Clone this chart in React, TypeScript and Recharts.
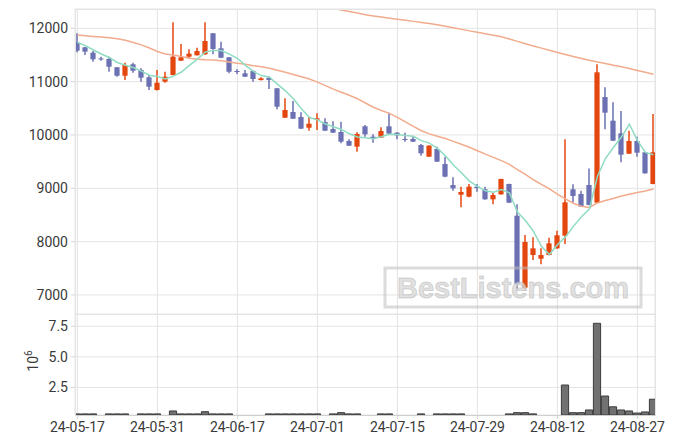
import { Bar, CartesianGrid, ComposedChart, Line, XAxis, YAxis } from "recharts";

const DATES = [
  "24-05-17", "24-05-20", "24-05-21", "24-05-22", "24-05-23", "24-05-24", "24-05-27", "24-05-28", "24-05-29", "24-05-30",
  "24-05-31", "24-06-03", "24-06-04", "24-06-05", "24-06-07", "24-06-10", "24-06-11", "24-06-12", "24-06-13", "24-06-14",
  "24-06-17", "24-06-18", "24-06-19", "24-06-20", "24-06-21", "24-06-24", "24-06-25", "24-06-26", "24-06-27", "24-06-28",
  "24-07-01", "24-07-02", "24-07-03", "24-07-04", "24-07-05", "24-07-08", "24-07-09", "24-07-10", "24-07-11", "24-07-12",
  "24-07-15", "24-07-16", "24-07-17", "24-07-18", "24-07-19", "24-07-22", "24-07-23", "24-07-24", "24-07-25", "24-07-26",
  "24-07-29", "24-07-30", "24-07-31", "24-08-01", "24-08-02", "24-08-05", "24-08-06", "24-08-07", "24-08-08", "24-08-09",
  "24-08-12", "24-08-13", "24-08-14", "24-08-16", "24-08-19", "24-08-20", "24-08-21", "24-08-22", "24-08-23", "24-08-26",
  "24-08-27", "24-08-28", "24-08-29",
];

const OPEN = [
  11737, 11644, 11543, 11435, 11425, 11269, 11111, 11325, 11218, 11081,
  10843, 10999, 11124, 11393, 11468, 11494, 11512, 11906, 11625, 11456,
  11200, 11156, 11199, 11030, 11070, 10875, 10324, 10431, 10337, 10136,
  10286, 10243, 10112, 10056, 9887, 9781, 10162, 9968, 9949, 10162,
  10043, 9925, 9925, 9812, 9593, 9737, 9456, 9061, 8880, 8843,
  9031, 8981, 8793, 8887, 9081, 8487, 7137, 7749, 7680, 7749,
  7874, 8112, 8981, 8893, 9062, 8731, 10712, 10268, 10031, 9649,
  9887, 9675, 9081,
];
const HIGH = [
  11906, 11650, 11574, 11468, 11468, 11275, 11355, 11355, 11250, 11124,
  11218, 11186, 12112, 11706, 11606, 11637, 12112, 11912, 11749, 11462,
  11231, 11218, 11218, 11080, 11100, 10880, 10688, 10637, 10425, 10343,
  10406, 10312, 10256, 10249, 9918, 10050, 10187, 10013, 10143, 10418,
  10049, 10043, 9968, 9831, 9806, 9781, 9593, 9206, 9031, 9081,
  9081, 9031, 8918, 9181, 9087, 8700, 8125, 8081, 7874, 8074,
  8206, 9918, 9075, 8956, 9369, 11325, 10893, 10612, 10450, 10080,
  9968, 9681, 10393,
];
const LOW = [
  11550, 11500, 11374, 11393, 11186, 11093, 11031, 11168, 10999, 10843,
  10835, 10980, 11118, 11387, 11437, 11488, 11506, 11512, 11437, 11156,
  11143, 11087, 10999, 11020, 10860, 10481, 10318, 10300, 10112, 10080,
  10093, 10074, 10037, 9844, 9793, 9687, 9968, 9855, 9943, 10019,
  9918, 9874, 9868, 9612, 9587, 9494, 9206, 8956, 8644, 8831,
  8937, 8787, 8700, 8881, 8725, 7100, 7100, 7656, 7574, 7743,
  7868, 7956, 8737, 8650, 8681, 8725, 10106, 9887, 9487, 9643,
  9593, 9275, 9075,
];
const CLOSE = [
  11580, 11562, 11419, 11418, 11280, 11111, 11312, 11205, 11074, 10905,
  10980, 11093, 11468, 11456, 11524, 11574, 11762, 11612, 11449, 11186,
  11180, 11093, 11049, 11062, 11030, 10530, 10468, 10305, 10118, 10211,
  10312, 10080, 10043, 9874, 9799, 10018, 10013, 9935, 10074, 10025,
  9993, 9915, 9874, 9656, 9800, 9500, 9218, 9000, 8931, 9031,
  9005, 8793, 8874, 9175, 8731, 7206, 7993, 7874, 7749, 7968,
  8119, 8737, 8856, 8656, 8687, 11175, 10418, 9893, 9631, 9887,
  9668, 9281, 9675,
];

// short moving average (green)
const MA_SHORT = [
  11737, 11674, 11593, 11518, 11452, 11358, 11308, 11265, 11196, 11121,
  11095, 11051, 11104, 11180, 11304, 11423, 11557, 11586, 11584, 11517,
  11438, 11304, 11191, 11114, 11083, 10953, 10828, 10679, 10490, 10326,
  10283, 10205, 10153, 10104, 10022, 9963, 9949, 9928, 9968, 10013,
  10008, 9988, 9976, 9893, 9848, 9749, 9610, 9435, 9290, 9136,
  9037, 8952, 8927, 8976, 8916, 8556, 8396, 8196, 7911, 7758,
  7941, 8089, 8286, 8467, 8611, 9222, 9558, 9766, 9961, 10201,
  9899, 9672, 9628,
];
// middle moving average (orange, lower)
const MA_MID = [
  11874, 11860, 11848, 11838, 11825, 11805, 11775, 11735, 11690, 11630,
  11565, 11520, 11498, 11470, 11440, 11420, 11410, 11405, 11390, 11370,
  11345, 11325, 11300, 11280, 11250, 11215, 11175, 11135, 11090, 11050,
  10990, 10925, 10860, 10800, 10745, 10680, 10600, 10520, 10460, 10406,
  10330, 10245, 10160, 10080, 10020, 9975, 9935, 9880, 9825, 9770,
  9705, 9640, 9580, 9520, 9450, 9350, 9260, 9160, 9075, 8990,
  8890, 8800, 8720, 8665, 8640, 8725, 8770, 8810, 8855, 8890,
  8920, 8950, 8985,
];
// long moving average (orange, top) - above the visible range before 07-03
const MA_LONG = [
  null, null, null, null, null, null, null, null, null, null,
  null, null, null, null, null, null, null, null, null, null,
  null, null, null, null, null, null, null, null, null, null,
  null, null, 12375, 12345, 12315, 12285, 12255, 12232, 12210, 12190,
  12168, 12150, 12130, 12110, 12090, 12065, 12040, 12010, 11980, 11952,
  11925, 11898, 11870, 11840, 11800, 11755, 11710, 11668, 11628, 11588,
  11545, 11510, 11470, 11435, 11400, 11370, 11340, 11308, 11278, 11245,
  11210, 11175, 11140,
];

// volume in millions
const VOLUME = [
  0.34, 0.34, 0.34, 0.25, 0.34, 0.34, 0.34, 0.25, 0.34, 0.34,
  0.34, 0.25, 0.58, 0.34, 0.34, 0.34, 0.52, 0.34, 0.34, 0.34,
  0.25, 0.25, 0.25, 0.25, 0.34, 0.34, 0.34, 0.34, 0.34, 0.34,
  0.34, 0.25, 0.34, 0.44, 0.34, 0.34, 0.25, 0.25, 0.34, 0.34,
  0.25, 0.25, 0.25, 0.34, 0.25, 0.34, 0.34, 0.34, 0.34, 0.25,
  0.25, 0.25, 0.25, 0.25, 0.34, 0.44, 0.44, 0.34, 0.25, 0.25,
  0.25, 2.7, 0.44, 0.44, 0.66, 7.74, 1.8, 0.92, 0.66, 0.58,
  0.41, 0.5, 1.54,
];

const PRICE_TICKS = [7000, 8000, 9000, 10000, 11000, 12000];
const VOL_TICKS = [2.5, 5, 7.5];
const DATE_TICKS = [0, 10, 20, 30, 40, 50, 60, 70];

const UP = "#e4460f";
const DOWN = "#6b71b2";
const GRID = "#e4e4e4";
const TEXT = "#3a3a3a";

const data = DATES.map((date, i) => ({
  i,
  date,
  open: OPEN[i],
  high: HIGH[i],
  low: LOW[i],
  close: CLOSE[i],
  range: [LOW[i], HIGH[i]],
  maShort: MA_SHORT[i],
  maMid: MA_MID[i],
  maLong: MA_LONG[i],
  vol: VOLUME[i],
}));

function Candle(props: any) {
  const { x, y, width, height, payload } = props;
  if (!payload) return null;
  const { open, close, high, low } = payload;
  const top = Math.min(y, y + height);
  const span = Math.abs(height);
  const ppu = span / (high - low);
  const cx = x + width / 2;
  const yOpen = top + (high - open) * ppu;
  const yClose = top + (high - close) * ppu;
  const color = close >= open ? UP : DOWN;
  const bodyTop = Math.min(yOpen, yClose);
  const bodyH = Math.max(Math.abs(yOpen - yClose), 1);
  return (
    <g>
      <line x1={cx} x2={cx} y1={top} y2={top + span} stroke={color} strokeWidth={1.5} />
      <rect x={cx - 2.6} y={bodyTop} width={5.2} height={bodyH} fill={color} />
    </g>
  );
}

const tickStyle = { fill: TEXT, fontSize: 14 };

export default function App() {
  return (
    <div
      style={{
        position: "absolute",
        left: 0,
        top: 0,
        width: 675,
        height: 444,
        background: "#fff",
        fontFamily: "Roboto, sans-serif",
      }}
    >
      <div style={{ position: "absolute", left: 0, top: 0 }}>
        <ComposedChart width={675} height={314} data={data} margin={{ top: 9, right: 20, bottom: 0, left: 0 }}>
          <CartesianGrid stroke={GRID} />
          <XAxis type="number" dataKey="i" domain={[-0.3, 72.2]} ticks={DATE_TICKS} allowDataOverflow hide />
          <YAxis
            width={75}
            domain={[6643, 12362]}
            ticks={PRICE_TICKS}
            allowDataOverflow
            axisLine={false}
            tickLine={{ stroke: "#d6d6d6" }}
            tickSize={4}
            tickMargin={3}
            tick={tickStyle}
          />
          <Bar dataKey="range" barSize={8} shape={(p: any) => <Candle {...p} />} isAnimationActive={false} />
          <Line type="linear" dataKey="maLong" stroke="#f2ab8c" strokeWidth={1.5} dot={false} isAnimationActive={false} />
          <Line type="linear" dataKey="maMid" stroke="#f2ab8c" strokeWidth={1.5} dot={false} isAnimationActive={false} />
          <Line type="linear" dataKey="maShort" stroke="#8fdcc3" strokeWidth={1.5} dot={false} isAnimationActive={false} />
        </ComposedChart>
      </div>
      <div style={{ position: "absolute", left: 0, top: 314 }}>
        <ComposedChart width={675} height={130} data={data} margin={{ top: 0, right: 20, bottom: 0, left: 0 }}>
          <CartesianGrid stroke={GRID} />
          <XAxis
            type="number"
            dataKey="i"
            domain={[-0.3, 72.2]}
            ticks={DATE_TICKS}
            allowDataOverflow
            tickFormatter={(v: number) => DATES[v] ?? ""}
            height={29}
            axisLine={false}
            tickLine={{ stroke: "#d6d6d6" }}
            tickSize={4}
            tickMargin={3}
            tick={tickStyle}
          />
          <YAxis
            width={75}
            domain={[0.25, 8.5]}
            ticks={VOL_TICKS}
            allowDataOverflow
            tickFormatter={(v: number) => v.toFixed(1)}
            axisLine={false}
            tickLine={{ stroke: "#d6d6d6" }}
            tickSize={4}
            tickMargin={3}
            tick={tickStyle}
          />
          <Bar dataKey="vol" barSize={8} fill="#717171" stroke="#3c3c3c" strokeWidth={1} isAnimationActive={false} />
        </ComposedChart>
      </div>
      {/* panel frames */}
      <div style={{ position: "absolute", left: 75, top: 9, width: 581, height: 306, boxSizing: "border-box", border: `1px solid ${GRID}`, pointerEvents: "none" }} />
      <div style={{ position: "absolute", left: 75, top: 314, width: 581, height: 102, boxSizing: "border-box", border: `1px solid ${GRID}`, borderBottom: "1px solid #cfcfcf", pointerEvents: "none" }} />
      <svg width={675} height={444} style={{ position: "absolute", left: 0, top: 0, pointerEvents: "none" }}>
        <text x={38} y={361} textAnchor="middle" transform="rotate(-90 38 361)" fill={TEXT} fontSize={14} fontFamily="Roboto">
          10<tspan dy={-6} fontSize={10}>6</tspan>
        </text>
        <rect x={385} y={268} width={256} height={39} fill="none" stroke="rgba(190,190,190,0.55)" strokeWidth={3} />
        <text
          x={513}
          y={298}
          textAnchor="middle"
          fontFamily="Liberation Sans, Arial, sans-serif"
          fontWeight="bold"
          fontSize={29}
          fill="rgba(215,215,215,0.75)"
          stroke="rgba(175,175,175,0.45)"
          strokeWidth={1}
        >
          BestListens.com
        </text>
      </svg>
    </div>
  );
}
